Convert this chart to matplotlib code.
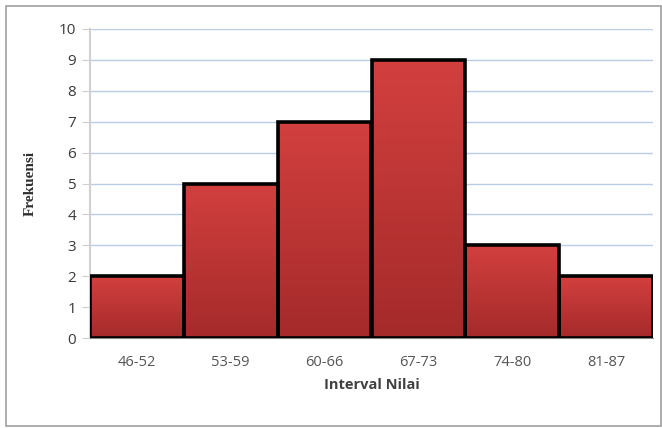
import matplotlib.pyplot as plt
import numpy as np
from matplotlib.patches import Rectangle
from matplotlib.colors import LinearSegmentedColormap

intervals = ['46-52', '53-59', '60-66', '67-73', '74-80', '81-87']
frekuensi = [2, 5, 7, 9, 3, 2]

fig = plt.figure(figsize=(6.62, 4.28), dpi=100)
fig.patches.append(Rectangle((6/662, 2/428), 655/662, 420/428, transform=fig.transFigure,
                             fill=False, edgecolor='#a0a0a0', linewidth=1.2))
ax = fig.add_axes([90/662, 1-338/428, 563/662, 309/428])

x = np.arange(len(intervals))
bars = ax.bar(x, frekuensi, width=1.0, color='none', edgecolor='black', linewidth=2.6, zorder=3)

# vertical gradient inside each bar, lighter at top
grad = np.linspace(0, 1, 256).reshape(-1, 1)
cmap = LinearSegmentedColormap.from_list('redgrad', ['#d2403f', '#a52a2a'])
for b in bars:
    x0, y0 = b.get_x(), b.get_y()
    w, h = b.get_width(), b.get_height()
    im = ax.imshow(grad, extent=[x0, x0 + w, y0, y0 + h], aspect='auto', cmap=cmap,
                   origin='upper', zorder=2)
    im.set_clip_path(b)

ax.set_xlim(-0.5, len(intervals) - 0.5)
ax.set_ylim(0, 10)
ax.set_yticks(range(0, 11))
ax.set_xticks(x)
ax.set_xticklabels(intervals)
ax.yaxis.grid(True, color='#b9cde5', linewidth=1.0, zorder=0)
ax.set_axisbelow(True)

for s in ['top', 'right']:
    ax.spines[s].set_visible(False)
ax.spines['left'].set_color('#d0d0d0')
ax.spines['left'].set_linewidth(1.5)
ax.spines['bottom'].set_color('#868686')
ax.tick_params(axis='y', colors='#d0d0d0', labelcolor='#3a3a3a', length=6, labelsize=11, pad=4)
ax.tick_params(axis='x', length=0, labelcolor='#555555', labelsize=10.5, pad=12)
for lbl in ax.get_xticklabels() + ax.get_yticklabels():
    lbl.set_family('Open Sans')

ax.set_xlabel('Interval Nilai', fontsize=10.5, fontweight='bold', color='#404040',
              family='Open Sans', labelpad=6)
ax.set_ylabel('Frekuensi', fontsize=11, fontweight='bold', color='#303030',
              family='Liberation Serif', labelpad=16)

fig.savefig('out.png', dpi=100)
